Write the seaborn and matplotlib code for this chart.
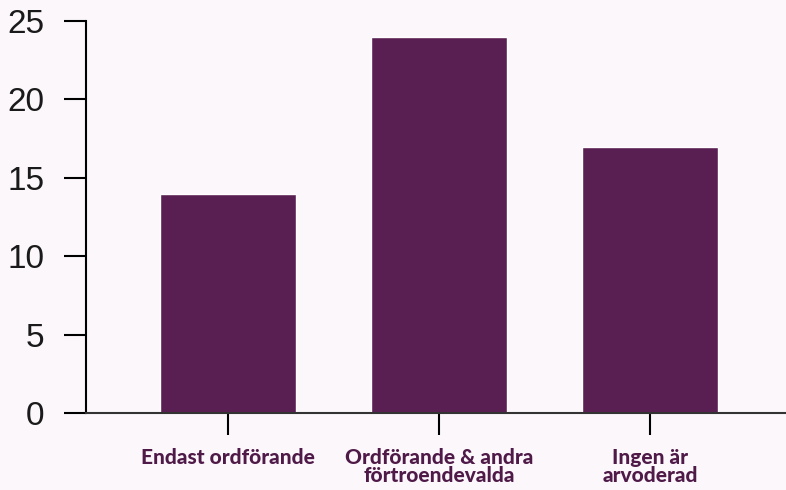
import matplotlib
matplotlib.use("Agg")
import matplotlib.pyplot as plt
import seaborn as sns
import pandas as pd

categories = ["Endast ordförande", "Ordförande & andra\nförtroendevalda", "Ingen är\narvoderad"]
values = [14, 24, 17]
y_ticks = [0, 5, 10, 15, 20, 25]

bg = "#fcf7fb"
bar_color = "#5a1f52"
label_color = "#4f1a48"

sns.set_style("white")
plt.rcParams["font.family"] = ["Liberation Sans", "DejaVu Sans"]

df = pd.DataFrame({"kategori": categories, "antal": values})

fig = plt.figure(figsize=(7.86, 4.9), dpi=100, facecolor=bg)
ax = fig.add_axes([0.1094, 0.157, 0.8906, 0.8])
ax.set_facecolor(bg)

sns.barplot(data=df, x="kategori", y="antal", color=bar_color, width=0.645,
            saturation=1, ax=ax)

ax.set_ylim(0, 25)
ax.set_xlim(-0.673, 2.645)
ax.set_yticks(y_ticks)
ax.set_xlabel("")
ax.set_ylabel("")

for s in ["top", "right"]:
    ax.spines[s].set_visible(False)
ax.spines["left"].set_color("black")
ax.spines["left"].set_linewidth(1.5)
ax.spines["bottom"].set_color("#333333")
ax.spines["bottom"].set_linewidth(1.5)

ax.tick_params(axis="y", length=16, width=1.5, color="black", labelsize=24,
               labelcolor="#1a1a1a", pad=14, left=True)
ax.tick_params(axis="x", length=16, width=1.5, color="black", pad=9, bottom=True)
for lab in ax.get_xticklabels():
    lab.set_fontfamily(["Lato", "DejaVu Sans"])
    lab.set_fontweight("black")
    lab.set_fontsize(15)
    lab.set_color(label_color)
    lab.set_linespacing(0.98)
    lab.set_verticalalignment("top")

fig.savefig("out.png", dpi=100, facecolor=bg)
